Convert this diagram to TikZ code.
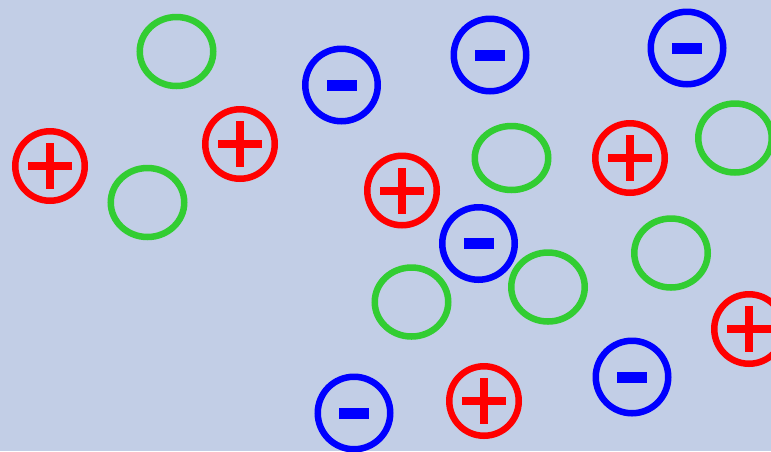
\documentclass[tikz,border=0pt]{standalone}
\usetikzlibrary{shapes.geometric}
\definecolor{bgc}{RGB}{194,206,230}
\definecolor{pred}{RGB}{255,0,0}
\definecolor{nblue}{RGB}{0,0,255}
\definecolor{ngreen}{RGB}{50,205,50}
\tikzset{
  poscirc/.style={circle,draw=pred,line width=6.5pt,minimum size=69.5pt,inner sep=0pt,
    path picture={\fill[pred] ([xshift=-22pt,yshift=-4pt]path picture bounding box.center) rectangle ++(44pt,8pt);
                  \fill[pred] ([xshift=-4pt,yshift=-23pt]path picture bounding box.center) rectangle ++(8pt,46pt);}},
  negcirc/.style={circle,draw=nblue,line width=6.5pt,minimum size=72.5pt,inner sep=0pt,
    path picture={\fill[nblue] ([xshift=-15pt,yshift=-5.5pt]path picture bounding box.center) rectangle ++(30pt,11pt);}},
  neutral/.style={ellipse,draw=ngreen,line width=6.5pt,minimum width=73.5pt,minimum height=69pt,inner sep=0pt}
}
\begin{document}
\begin{tikzpicture}[x=1pt,y=-1pt]
\fill[bgc] (0,0) rectangle (771,451);
\useasboundingbox (0,0) rectangle (771,451);
% neutral
\node[neutral] (g1) at (176.5,51.5) {};
\node[neutral] (g2) at (147.5,202.5) {};
\node[neutral,minimum height=64pt] (g3) at (511.5,158) {};
\node[neutral] (g4) at (735,138) {};
\node[neutral] (g5) at (671,253) {};
\node[neutral] (g6) at (411.5,302) {};
\node[neutral] (g7) at (548,287) {};
% positive
\node[poscirc] (p1) at (50,166) {};
\node[poscirc] (p2) at (240,144) {};
\node[poscirc] (p3) at (402,190.5) {};
\node[poscirc] (p4) at (630,158) {};
\node[poscirc] (p5) at (749,329) {};
\node[poscirc] (p6) at (484,401) {};
% negative
\node[negcirc] (n1) at (341.5,85) {};
\node[negcirc] (n2) at (490,55) {};
\node[negcirc] (n3) at (687,48) {};
\node[negcirc] (n4) at (478.5,243.5) {};
\node[negcirc] (n5) at (632,377) {};
\node[negcirc] (n6) at (354,413) {};
\end{tikzpicture}
\end{document}
